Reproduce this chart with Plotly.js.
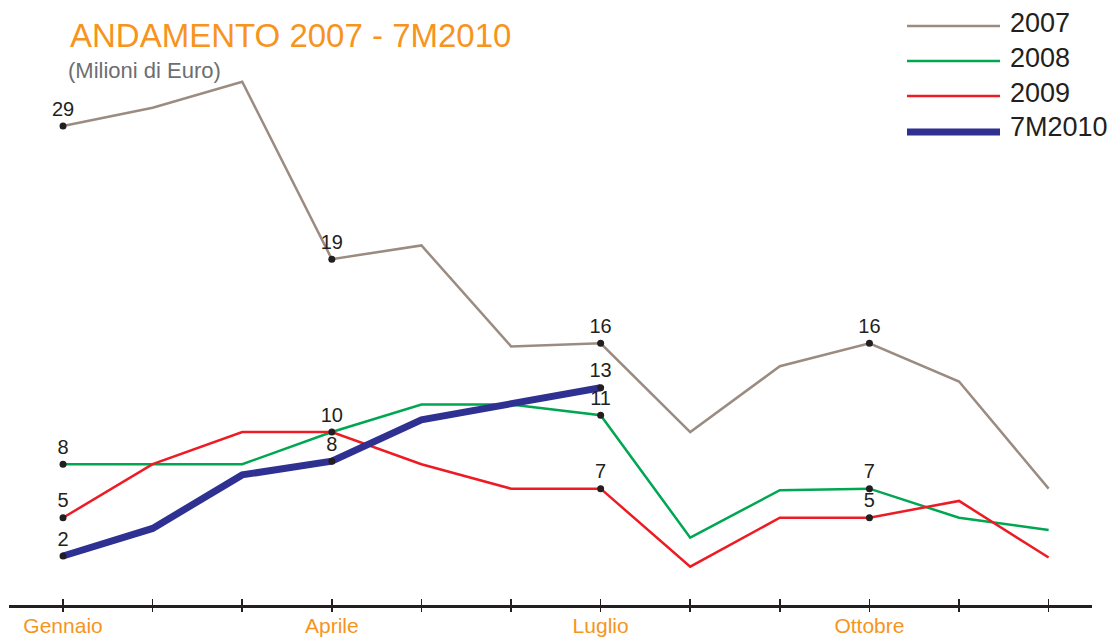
<!DOCTYPE html>
<html>
<head>
<meta charset="utf-8">
<script src="https://cdn.plot.ly/plotly-3.0.1.min.js"></script>
<style>
  html, body { margin: 0; padding: 0; background: #ffffff; }
  #chart { width: 1111px; height: 637px; }
</style>
</head>
<body>
<div id="chart"></div>
<script>
// ---- data ----
var months = ["Gennaio","Febbraio","Marzo","Aprile","Maggio","Giugno","Luglio","Agosto","Settembre","Ottobre","Novembre","Dicembre"];
var tickLabels = ["Gennaio","","","Aprile","","","Luglio","","","Ottobre","",""];
var seriesNames = ["2007","2008","2009","7M2010"];

var values2007 = [30.1, 31.3, 33.0, 21.4, 22.3, 15.7, 15.9, 10.1, 14.4, 15.9, 13.4, 6.4];
var values2008 = [8.0, 8.0, 8.0, 10.1, 11.9, 11.9, 11.2, 3.2, 6.3, 6.4, 4.5, 3.7];
var values2009 = [4.5, 8.0, 10.1, 10.1, 8.0, 6.4, 6.4, 1.3, 4.5, 4.5, 5.6, 1.9];
var values2010 = [2.0, 3.8, 7.3, 8.2, 10.9, 11.9, 13.0];

var labels2007 = ["29","","","19","","","16","","","16","",""];
var labels2008 = ["8","","","","","","11","","","7","",""];
var labels2009 = ["5","","","10","","","7","","","5","",""];
var labels2010 = ["2","","","8","","","13"];

// ---- styles ----
var colors = ["#9B8B80", "#00A651", "#ED1C24", "#2E3192"];
var widths = [2.5, 2.5, 2.5, 7];
var allValues = [values2007, values2008, values2009, values2010];
var allLabels = [labels2007, labels2008, labels2009, labels2010];
var FONT = "Liberation Sans, Arial, sans-serif";

var W = 1111, H = 637;
var mL = 9, mR = 19, mT = 60, mB = 32;
var pw = W - mL - mR, ph = H - mT - mB;
function px(x) { return (x - mL) / pw; }
function py(y) { return (H - mB - y) / ph; }

var traces = [];
// lines
allValues.forEach(function (vals, s) {
  traces.push({
    type: "scatter", mode: "lines",
    x: months.slice(0, vals.length), y: vals,
    name: seriesNames[s],
    line: { color: colors[s], width: widths[s], shape: "linear" },
    hoverinfo: "skip", showlegend: false
  });
});
// labelled dots
allValues.forEach(function (vals, s) {
  var xs = [], ys = [], ts = [];
  allLabels[s].forEach(function (t, i) {
    if (t !== "") { xs.push(months[i]); ys.push(vals[i]); ts.push(t); }
  });
  traces.push({
    type: "scatter", mode: "markers+text",
    x: xs, y: ys, text: ts, textposition: "top center",
    textfont: { family: FONT, size: 20, color: "#231F20" },
    marker: { color: "#231F20", size: 7 },
    hoverinfo: "skip", showlegend: false, cliponaxis: false
  });
});
// dummy traces for the tick-only axes
["x2", "x3"].forEach(function (ax) {
  traces.push({
    type: "scatter", mode: "lines", x: months, y: months.map(function () { return null; }),
    xaxis: ax, yaxis: "y", hoverinfo: "skip", showlegend: false
  });
});

// legend built from series names
var shapes = [], annotations = [];
var legLineY = [26, 61, 96, 132];
var legTextY = [23, 58, 93, 127];
seriesNames.forEach(function (n, s) {
  shapes.push({
    type: "line", xref: "paper", yref: "paper",
    x0: px(907), x1: px(1000), y0: py(legLineY[s]), y1: py(legLineY[s]),
    line: { color: colors[s], width: s === 3 ? 7 : 2.5 }
  });
  annotations.push({
    xref: "paper", yref: "paper", x: px(1008), y: py(legTextY[s]),
    xanchor: "left", yanchor: "middle", showarrow: false,
    text: n, font: { family: FONT, size: 27, color: "#231F20" }
  });
});
annotations.push({
  xref: "paper", yref: "paper", x: px(66), y: py(71),
  xanchor: "left", yanchor: "middle", showarrow: false,
  text: "(Milioni di Euro)", font: { family: FONT, size: 22, color: "#6D6E71" }
});

var xr = [-0.603, 11.484];
function tickAxis(dir) {
  return {
    type: "category", categoryorder: "array", categoryarray: months,
    range: xr, overlaying: "x", anchor: "y", side: "bottom",
    showgrid: false, zeroline: false, showline: false,
    ticks: dir, ticklen: 6, tickwidth: 1.5, tickcolor: "#231F20",
    tickmode: "array", tickvals: months, showticklabels: false
  };
}
var layout = {
  width: W, height: H,
  margin: { l: mL, r: mR, t: mT, b: mB, pad: 0 },
  paper_bgcolor: "#ffffff", plot_bgcolor: "#ffffff",
  showlegend: false,
  title: {
    text: "ANDAMENTO 2007 - 7M2010",
    x: 70 / W, xref: "container", xanchor: "left",
    y: 1 - 35 / H, yref: "container", yanchor: "middle",
    font: { family: FONT, size: 33, color: "#F7941D" }
  },
  xaxis: {
    type: "category", categoryorder: "array", categoryarray: months,
    range: xr, fixedrange: true,
    showgrid: false, zeroline: false,
    showline: true, linecolor: "#231F20", linewidth: 3,
    ticks: "", tickmode: "array", tickvals: months, ticktext: tickLabels,
    tickfont: { family: FONT, size: 21, color: "#F7941D" }
  },
  xaxis2: tickAxis("inside"),
  xaxis3: tickAxis("outside"),
  yaxis: {
    range: [-1.203, 34.418], visible: false, showgrid: false, zeroline: false, fixedrange: true
  },
  shapes: shapes,
  annotations: annotations
};

Plotly.newPlot("chart", traces, layout, { staticPlot: true, displayModeBar: false });
</script>
</body>
</html>
